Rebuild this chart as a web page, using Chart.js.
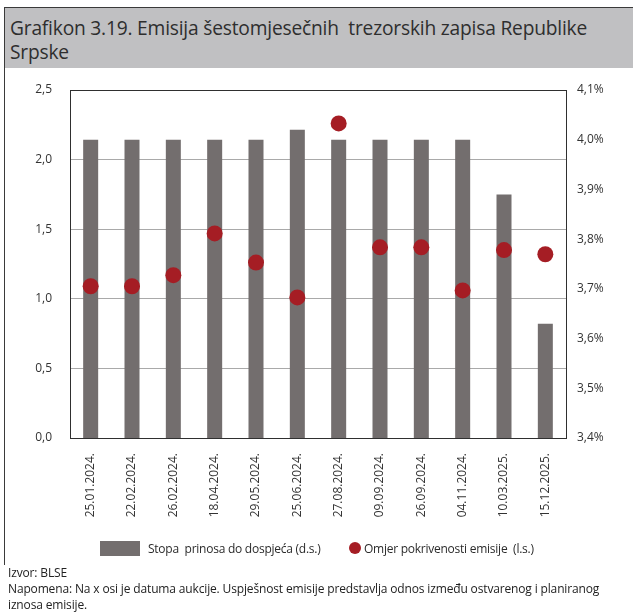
<!DOCTYPE html>
<html>
<head>
<meta charset="utf-8">
<script src="https://cdn.jsdelivr.net/npm/chart.js@4/dist/chart.umd.min.js"></script>
<style>
  html, body { margin: 0; padding: 0; background: #ffffff; }
  body { width: 633px; height: 612px; position: relative; overflow: hidden; font-family: "Open Sans", "Noto Sans", sans-serif; color: #2b2b2b; }
  #frame-top { position: absolute; left: 4px; top: 7px; width: 629px; height: 1px; background: #3a3a3a; }
  #frame-left { position: absolute; left: 4px; top: 7px; width: 1px; height: 558px; background: #3a3a3a; }
  #title { position: absolute; left: 5px; top: 8px; width: 628px; height: 60px; background: #c0c0c2; }
  #title div { position: absolute; left: 5px; font-size: 19.2px; line-height: 24px; white-space: pre; color: #2e2e2e; letter-spacing: -0.2px; }
  #chart { position: absolute; left: 0; top: 0; }
  .legend { position: absolute; top: 540px; font-size: 12px; white-space: pre; color: #2b2b2b; letter-spacing: -0.25px; }
  .swatch-bar { position: absolute; left: 100px; top: 541px; width: 40px; height: 15px; background: #736e6e; }
  .swatch-dot { position: absolute; left: 349px; top: 542px; width: 12px; height: 12px; border-radius: 50%; background: #a51d24; }
  .foot { position: absolute; left: 8px; font-size: 12px; white-space: pre; color: #222; letter-spacing: -0.15px; }
</style>
</head>
<body>
<div id="frame-top"></div>
<div id="frame-left"></div>
<div id="title">
  <div style="top:8px">Grafikon 3.19. Emisija šestomjesečnih  trezorskih zapisa Republike</div>
  <div style="top:32px">Srpske</div>
</div>
<canvas id="chart" width="633" height="612"></canvas>
<div class="swatch-bar"></div>
<div class="legend" style="left:148px">Stopa  prinosa do dospjeća (d.s.)</div>
<div class="swatch-dot"></div>
<div class="legend" style="left:364px">Omjer pokrivenosti emisije  (l.s.)</div>
<div class="foot" style="top:564px">Izvor: BLSE</div>
<div class="foot" style="top:580px">Napomena: Na x osi je datuma aukcije. Uspješnost emisije predstavlja odnos između ostvarenog i planiranog</div>
<div class="foot" style="top:596px">iznosa emisije.</div>
<script>
// Auction dates
const auctionDates = [
  '25.01.2024.', '22.02.2024.', '26.02.2024.', '18.04.2024.', '29.05.2024.', '25.06.2024.',
  '27.08.2024.', '09.09.2024.', '26.09.2024.', '04.11.2024.', '10.03.2025.', '15.12.2025.'
];
// Yield to maturity, % (right axis)
const yieldToMaturity = [4.00, 4.00, 4.00, 4.00, 4.00, 4.02, 4.00, 4.00, 4.00, 4.00, 3.89, 3.63];
// Bid-to-cover ratio of the issue (left axis)
const coverageRatio = [1.09, 1.09, 1.17, 1.47, 1.26, 1.01, 2.26, 1.37, 1.37, 1.06, 1.35, 1.32];

const seriesNames = ['Stopa  prinosa do dospjeća (d.s.)', 'Omjer pokrivenosti emisije  (l.s.)'];

const tickFont = { family: '"Open Sans", "Noto Sans", sans-serif', size: 12 };
const tickColor = '#333333';
const comma = (v, d) => v.toFixed(d).replace('.', ',');

// Box around the plotting area
const plotFrame = {
  id: 'plotFrame',
  afterDatasetsDraw(chart) {
    const a = chart.chartArea;
    const ctx = chart.ctx;
    ctx.save();
    ctx.strokeStyle = '#2f2f2f';
    ctx.lineWidth = 1;
    ctx.strokeRect(Math.round(a.left) + 0.5, Math.round(a.top) + 0.5,
                   Math.round(a.right - a.left), Math.round(a.bottom - a.top));
    ctx.restore();
  }
};

new Chart(document.getElementById('chart'), {
  data: {
    labels: auctionDates,
    datasets: [
      {
        type: 'line',
        label: seriesNames[1],
        data: coverageRatio,
        yAxisID: 'y',
        showLine: false,
        pointRadius: 8,
        pointHoverRadius: 8,
        pointBackgroundColor: '#a51d24',
        pointBorderWidth: 0,
        borderColor: '#a51d24',
        order: 0
      },
      {
        type: 'bar',
        label: seriesNames[0],
        data: yieldToMaturity,
        yAxisID: 'y1',
        backgroundColor: '#736e6e',
        barPercentage: 0.363,
        categoryPercentage: 1.0,
        order: 1
      }
    ]
  },
  options: {
    responsive: false,
    animation: false,
    layout: { padding: { top: 90, left: 0, right: 0, bottom: 0 } },
    plugins: { legend: { display: false }, tooltip: { enabled: false } },
    scales: {
      x: {
        grid: { display: false, drawTicks: false },
        border: { display: false },
        ticks: {
          autoSkip: false, maxRotation: 90, minRotation: 90,
          padding: 15, font: tickFont, color: tickColor
        },
        afterFit(scale) { scale.height = 174; }
      },
      y: {
        position: 'left',
        min: 0, max: 2.5,
        grid: { color: '#a9a9a9', lineWidth: 1, drawTicks: false },
        border: { display: false },
        ticks: {
          stepSize: 0.5, padding: 18, font: tickFont, color: tickColor,
          callback: v => comma(v, 1)
        },
        afterFit(scale) { scale.width = 70; }
      },
      y1: {
        position: 'right',
        min: 3.4, max: 4.1,
        grid: { display: false, drawTicks: false },
        border: { display: false },
        ticks: {
          stepSize: 0.1, padding: 11, font: tickFont, color: tickColor,
          callback: v => comma(v, 1) + '%'
        },
        afterFit(scale) { scale.width = 67; }
      }
    }
  },
  plugins: [plotFrame]
});
</script>
</body>
</html>
